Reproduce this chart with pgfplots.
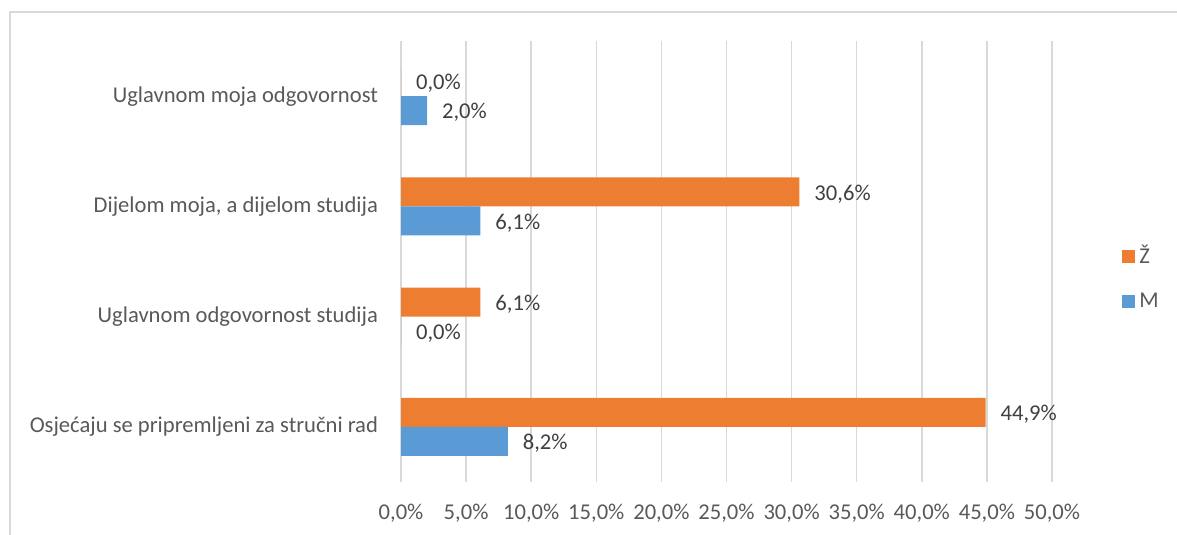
\documentclass[border=0pt]{standalone}
\usepackage{fontspec}
\setmainfont{Carlito}
\usepackage{pgfplots}
\pgfplotsset{compat=1.18}
\definecolor{zcol}{RGB}{237,125,49}
\definecolor{mcol}{RGB}{91,155,213}
\definecolor{gridc}{RGB}{217,217,217}
\definecolor{txt}{RGB}{89,89,89}
\definecolor{lbl}{RGB}{64,64,64}

\begin{document}
\begin{tikzpicture}[font=\fontsize{11.3}{13.5}\selectfont]
\draw[gridc, line width=0.75pt] (5pt,0pt) -- (5pt,261.5pt) -- (600pt,261.5pt);
\begin{axis}[
    at={(200.5pt,26.5pt)}, anchor=south west,
    scale only axis, width=325.5pt, height=220.5pt,
    xbar, bar width=14.5pt,
    xmin=0, xmax=50, xtick={0,5,...,50},
    ymin=-0.5, ymax=3.5, ytick={0,1,2,3},
    yticklabels={
        {Osjećaju se pripremljeni za stručni rad},
        {Uglavnom odgovornost studija},
        {Dijelom moja, a dijelom studija},
        {Uglavnom moja odgovornost}
    },
    axis line style={draw=none},
    major tick length=0pt,
    xmajorgrids,
    major grid style={gridc, line width=0.75pt},
    /pgf/number format/assume math mode=true,
    xticklabel={\pgfmathprintnumber[fixed,fixed zerofill,precision=1,use comma]{\tick}\%},
    xticklabel style={text=txt, yshift=-7.5pt},
    yticklabel style={text=txt, xshift=-8pt},
    point meta=x,
    nodes near coords={\pgfmathprintnumber[fixed,fixed zerofill,precision=1,use comma,assume math mode=true]{\pgfplotspointmeta}\%},
    nodes near coords align=horizontal,
    every node near coord/.append style={text=lbl, xshift=4pt, yshift=-1pt},
    legend style={at={(1.1075,0.4626)}, anchor=west, draw=none, fill=none,
        inner sep=0pt, row sep=9pt, nodes={inner sep=2pt, text=txt}},
    legend cell align=left,
    legend image code/.code={\fill[#1] (0pt,-3.25pt) rectangle (6.5pt,3.25pt);},
]
\addplot[fill=zcol, draw=none, bar shift=7.25pt] coordinates {
    (44.9,0) (6.1,1) (30.6,2) (0.0,3)
};
\addlegendentry{Ž}
\addplot[fill=mcol, draw=none, bar shift=-7.25pt] coordinates {
    (8.2,0) (0.0,1) (6.1,2) (2.0,3)
};
\addlegendentry{M}
\end{axis}
\pgfresetboundingbox
\useasboundingbox (0,0) rectangle (588.5pt,267.5pt);
\end{tikzpicture}
\end{document}
